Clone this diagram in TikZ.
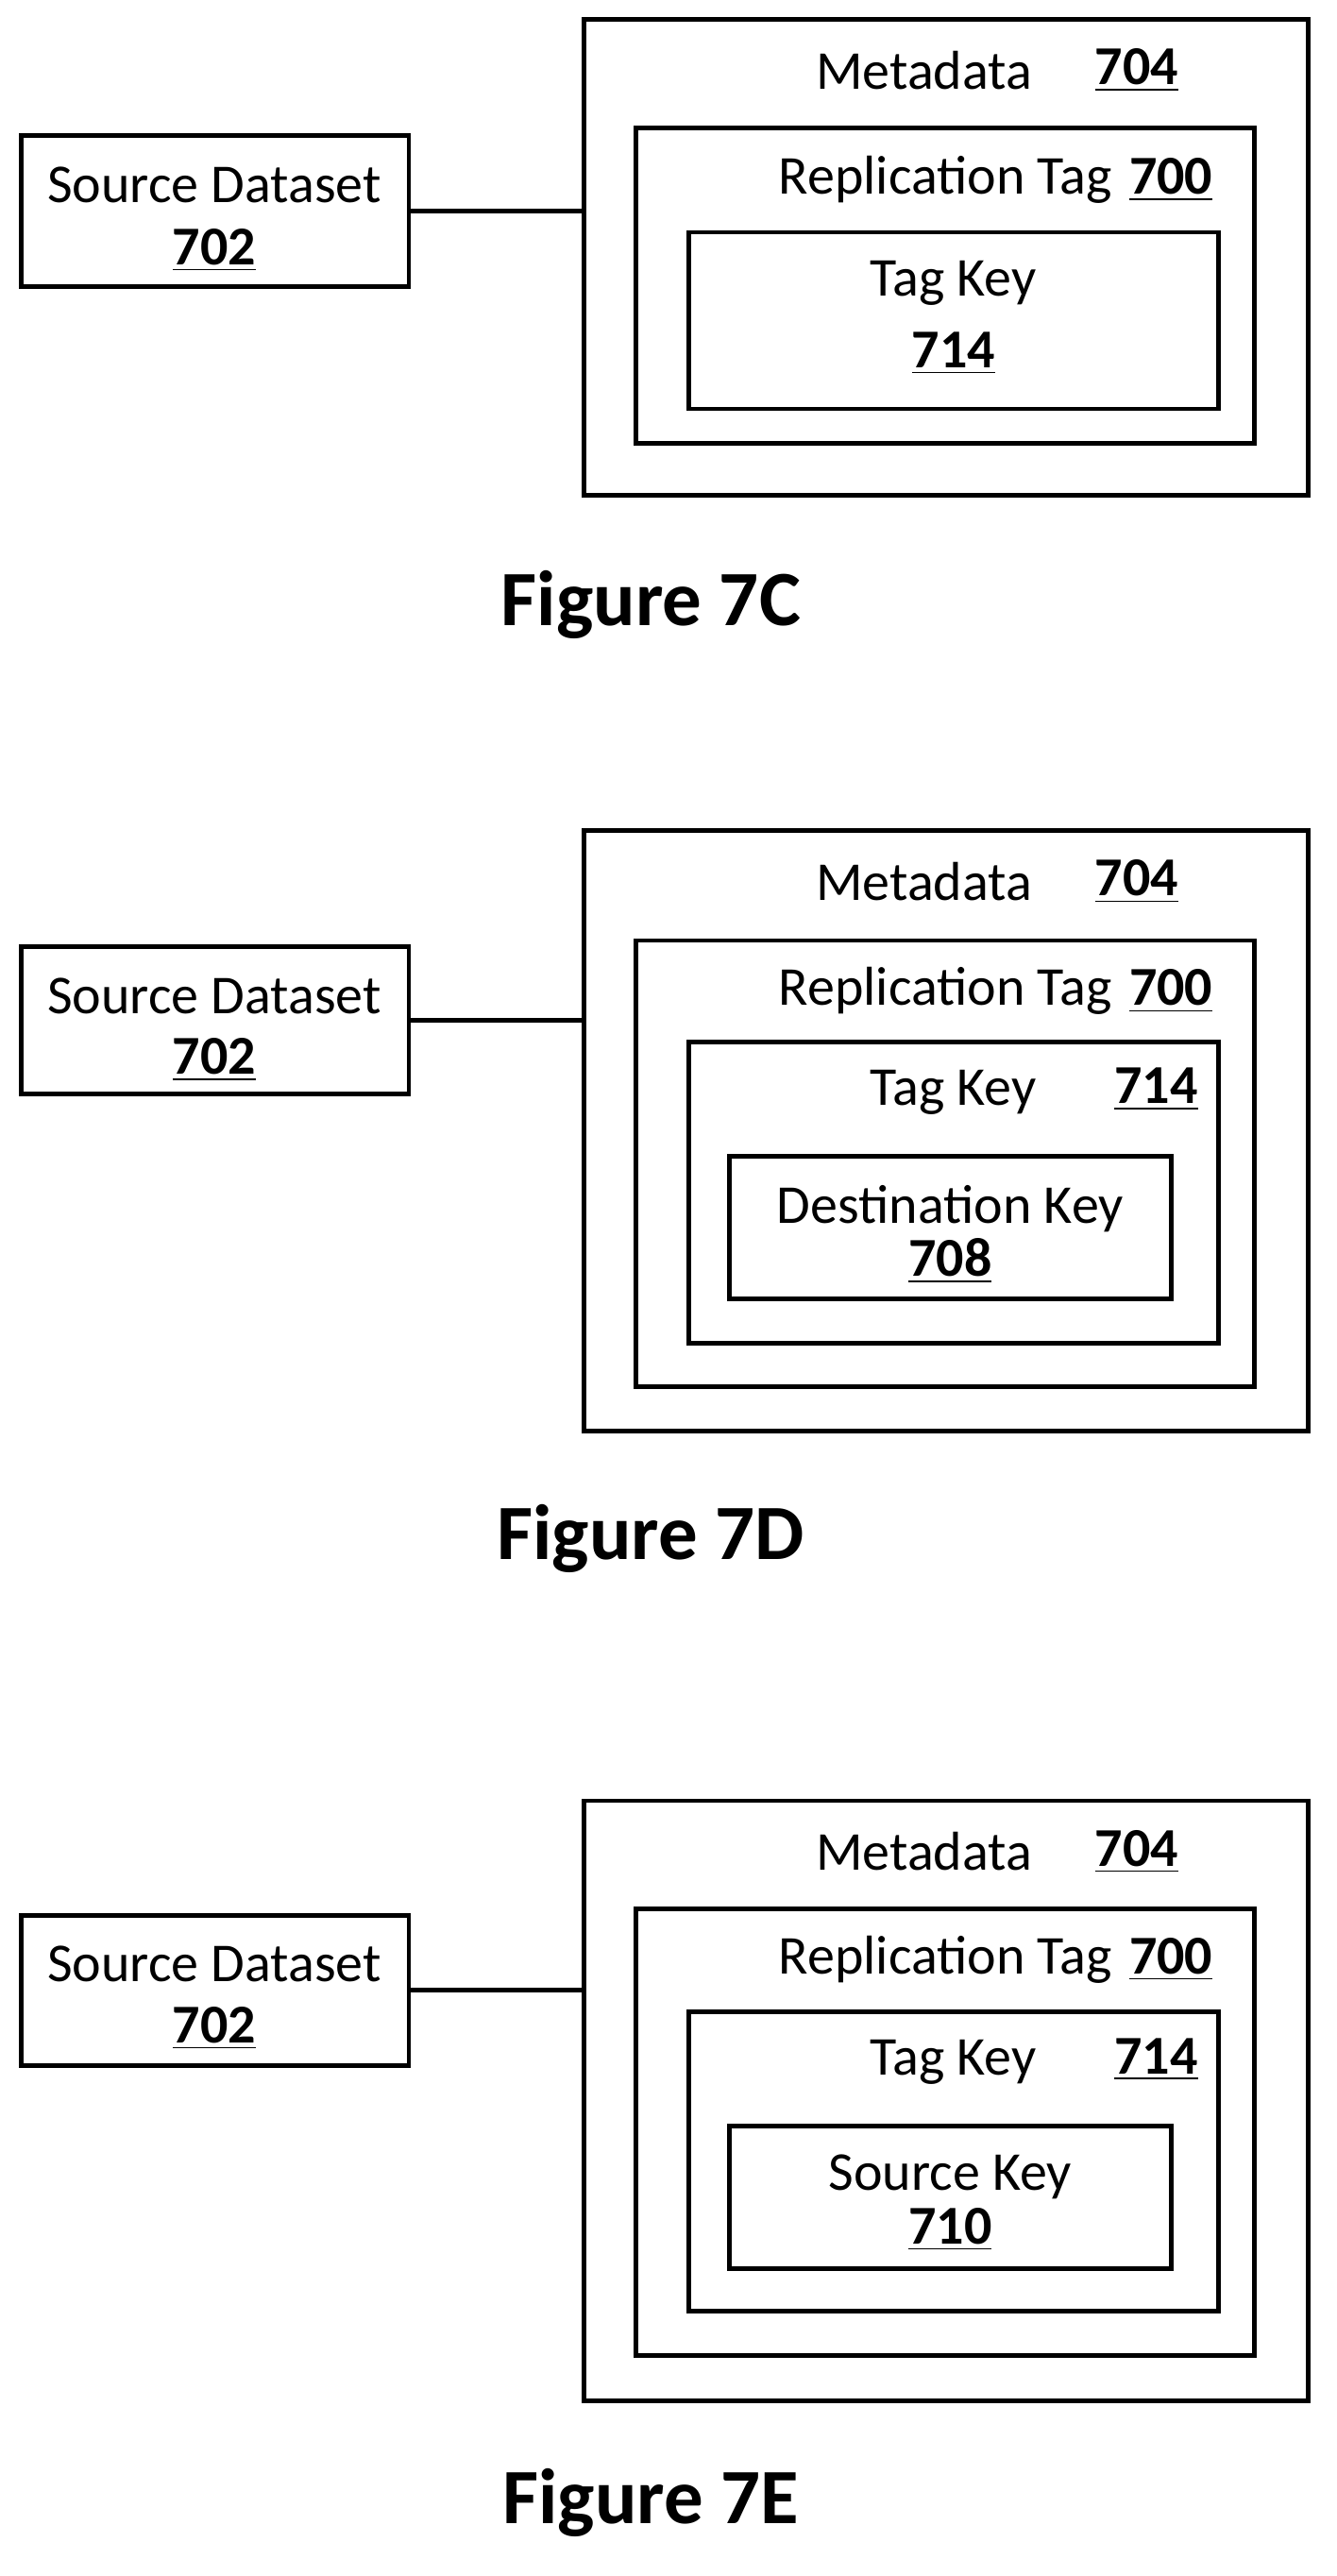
\documentclass[tikz,border=0pt]{standalone}
\usepackage{fontspec}
\setmainfont{Carlito}
\usetikzlibrary{positioning}
\def\unitpx{0.01732cm}
% box from corner to corner, in reference pixels
\newcommand{\boxat}[5]{\node[box,minimum width={(#4-#2)*\unitpx},minimum height={(#5-#3)*\unitpx}] (#1) at ({(#2+#4)/2},{(#3+#5)/2}) {};}
\newcommand{\num}[1]{\textbf{\underline{#1}}}
\begin{document}
\begin{tikzpicture}
[x=\unitpx,y=-\unitpx,
box/.style={draw,line width=1.4pt,inner sep=0pt},
txt/.style={font=\fontsize{16.5}{18}\selectfont,inner sep=0pt},
fig/.style={font=\fontsize{23.6}{26}\selectfont\bfseries,inner sep=0pt}]
\useasboundingbox (0,0) rectangle (817,1575);
% Figure 7C
\boxat{sdC}{13}{83}{250}{175}
\boxat{metaC}{357}{12}{800}{303}
\boxat{tagC}{389}{78}{767}{271}
\boxat{keyC}{421}{142}{745}{250}
\draw[line width=1.4pt] (sdC.east) -- (sdC.east -| metaC.west);
\node[txt] (sdCt) at (131,113) {Source Dataset};
\node[txt] (sdCn) at (131,153) {\num{702}};
\node[txt] (metaCt) at (565,43) {Metadata};
\node[txt] (metaCn) at (695,43) {\num{704}};
\node[txt] (tagCt) at (578,110) {Replication Tag};
\node[txt] (tagCn) at (716,110) {\num{700}};
\node[txt] (keyCt) at (583,173) {Tag Key};
\node[txt] (keyCn) at (583,216) {\num{714}};
\node[fig] (figC) at (398,370) {Figure 7C};
% Figure 7D
\boxat{sdD}{13}{579}{250}{669}
\boxat{metaD}{357}{508}{800}{875}
\boxat{tagD}{389}{575}{767}{848}
\boxat{keyD}{421}{637}{745}{821}
\boxat{destD}{446}{707}{716}{794}
\draw[line width=1.4pt] (sdD.east) -- (sdD.east -| metaD.west);
\node[txt] (sdDt) at (131,609) {Source Dataset};
\node[txt] (sdDn) at (131,648) {\num{702}};
\node[txt] (metaDt) at (565,539) {Metadata};
\node[txt] (metaDn) at (695,539) {\num{704}};
\node[txt] (tagDt) at (578,606) {Replication Tag};
\node[txt] (tagDn) at (716,606) {\num{700}};
\node[txt] (keyDt) at (583,668) {Tag Key};
\node[txt] (keyDn) at (707,666) {\num{714}};
\node[txt] (destDt) at (581,739) {Destination Key};
\node[txt] (destDn) at (581,771) {\num{708}};
\node[fig] (figD) at (398,941) {Figure 7D};
% Figure 7E
\boxat{sdE}{13}{1171}{250}{1263}
\boxat{metaE}{357}{1101}{800}{1468}
\boxat{tagE}{389}{1167}{767}{1440}
\boxat{keyE}{421}{1230}{745}{1413}
\boxat{srcE}{446}{1300}{716}{1387}
\draw[line width=1.4pt] (sdE.east) -- (sdE.east -| metaE.west);
\node[txt] (sdEt) at (131,1201) {Source Dataset};
\node[txt] (sdEn) at (131,1240) {\num{702}};
\node[txt] (metaEt) at (565,1132) {Metadata};
\node[txt] (metaEn) at (695,1132) {\num{704}};
\node[txt] (tagEt) at (578,1198) {Replication Tag};
\node[txt] (tagEn) at (716,1198) {\num{700}};
\node[txt] (keyEt) at (583,1261) {Tag Key};
\node[txt] (keyEn) at (707,1259) {\num{714}};
\node[txt] (srcEt) at (581,1331) {Source Key};
\node[txt] (srcEn) at (581,1363) {\num{710}};
\node[fig] (figE) at (398,1530) {Figure 7E};
\end{tikzpicture}
\end{document}
